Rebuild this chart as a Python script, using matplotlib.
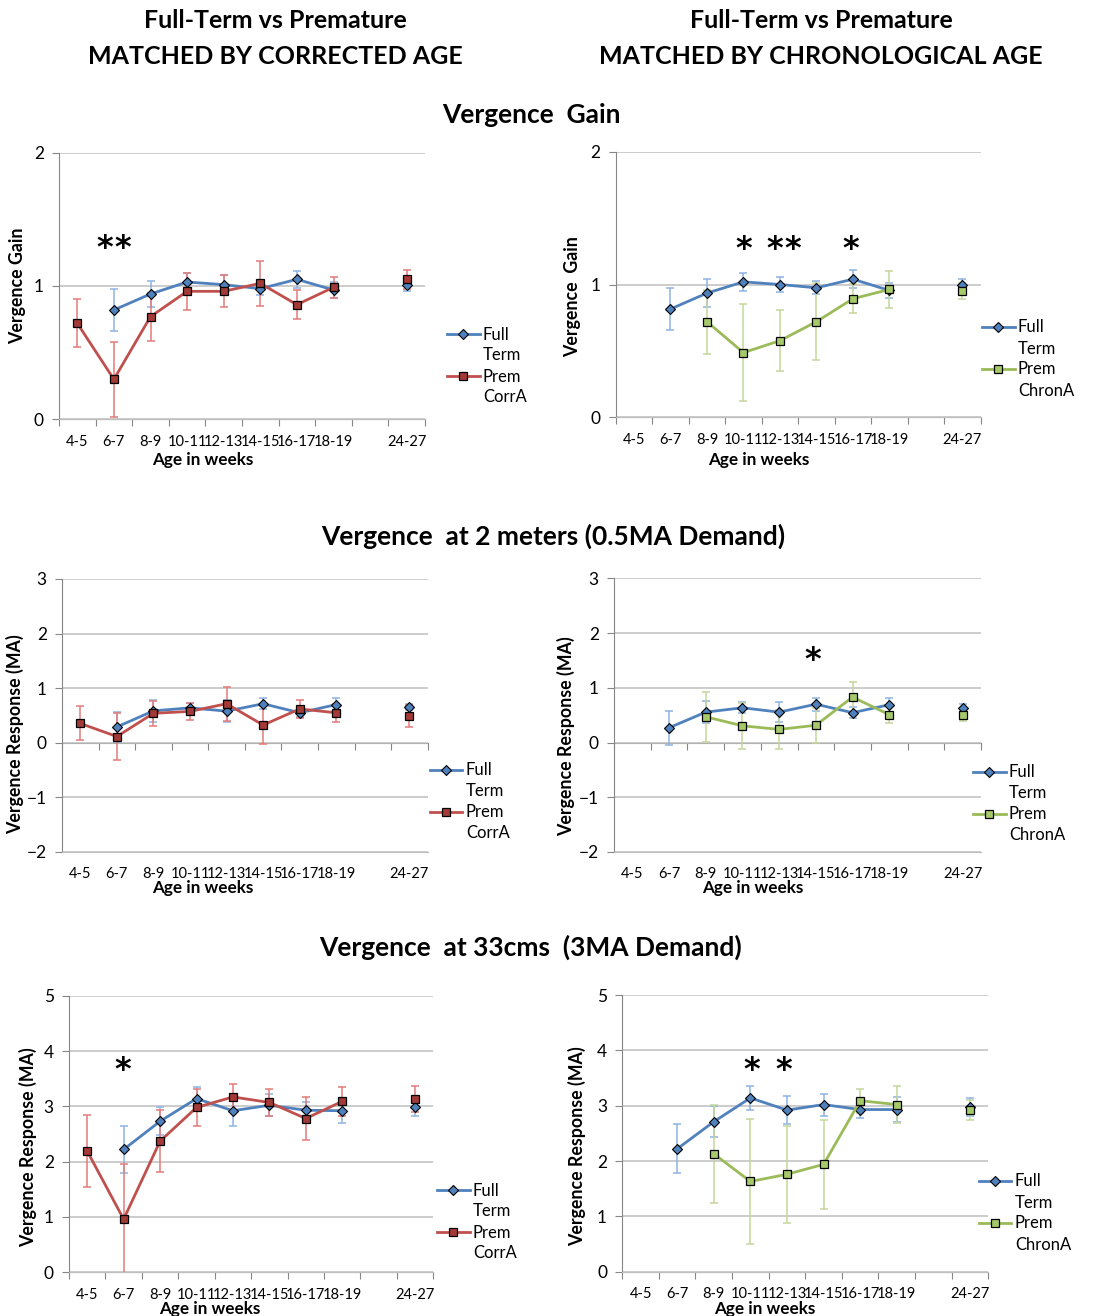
import numpy as np
import matplotlib
matplotlib.use('Agg')
import matplotlib.pyplot as plt
from matplotlib.lines import Line2D
from matplotlib.transforms import offset_copy

nan = np.nan

ages = ['4-5', '6-7', '8-9', '10-11', '12-13', '14-15', '16-17', '18-19', '', '24-27']

# Vergence gain
gain_ft = [nan, 0.82, 0.94, 1.03, 1.01, 0.98, 1.05, 0.97, nan, 1.01]
gain_ft_err = [nan, 0.16, 0.10, 0.07, 0.07, 0.05, 0.065, 0.06, nan, 0.05]
gain_corr = [0.72, 0.30, 0.77, 0.96, 0.96, 1.02, 0.86, 0.99, nan, 1.05]
gain_corr_err = [0.18, 0.28, 0.18, 0.14, 0.12, 0.17, 0.11, 0.08, nan, 0.07]
gain_ft_c = [nan, 0.815, 0.935, 1.02, 1.0, 0.975, 1.04, 0.955, nan, 0.995]
gain_ft_c_err = [nan, 0.16, 0.105, 0.07, 0.06, 0.05, 0.07, 0.06, nan, 0.05]
gain_chron = [nan, nan, 0.72, 0.487, 0.577, 0.72, 0.893, 0.963, nan, 0.95]
gain_chron_err = [nan, nan, 0.24, 0.365, 0.23, 0.29, 0.11, 0.14, nan, 0.06]

# Vergence at 2 m
far_ft = [nan, 0.29, 0.585, 0.64, 0.58, 0.715, 0.55, 0.70, nan, 0.655]
far_ft_err = [nan, 0.28, 0.2, 0.08, 0.2, 0.1, 0.08, 0.12, nan, 0.05]
far_corr = [0.355, 0.115, 0.54, 0.575, 0.715, 0.325, 0.62, 0.55, nan, 0.495]
far_corr_err = [0.31, 0.43, 0.23, 0.16, 0.31, 0.34, 0.16, 0.16, nan, 0.2]
far_ft_c = [nan, 0.27, 0.555, 0.635, 0.555, 0.70, 0.545, 0.69, nan, 0.635]
far_ft_c_err = [nan, 0.31, 0.2, 0.1, 0.185, 0.12, 0.1, 0.13, nan, 0.07]
far_chron = [nan, nan, 0.47, 0.305, 0.24, 0.315, 0.83, 0.51, nan, 0.495]
far_chron_err = [nan, nan, 0.46, 0.42, 0.35, 0.32, 0.27, 0.15, nan, 0.1]

# Vergence at 33 cm
near_ft = [nan, 2.22, 2.73, 3.14, 2.92, 3.02, 2.93, 2.92, nan, 2.99]
near_ft_err = [nan, 0.43, 0.25, 0.21, 0.27, 0.2, 0.15, 0.23, nan, 0.17]
near_corr = [2.19, 0.96, 2.37, 2.98, 3.17, 3.07, 2.78, 3.09, nan, 3.13]
near_corr_err = [0.65, 1.0, 0.56, 0.33, 0.23, 0.24, 0.38, 0.26, nan, 0.24]
near_ft_c = [nan, 2.22, 2.71, 3.14, 2.92, 3.02, 2.93, 2.93, nan, 2.98]
near_ft_c_err = [nan, 0.44, 0.28, 0.21, 0.26, 0.2, 0.15, 0.22, nan, 0.16]
near_chron = [nan, nan, 2.13, 1.63, 1.76, 1.94, 3.09, 3.02, nan, 2.92]
near_chron_err = [nan, nan, 0.88, 1.13, 0.88, 0.81, 0.22, 0.33, nan, 0.18]

# significance stars (category position, y)
stars_gain_corr = [(0.75, 1.33), (1.25, 1.33)]
stars_gain_chron = [(3.0, 1.31), (3.86, 1.31), (4.35, 1.31), (5.94, 1.31)]
stars_far_corr = []
stars_far_chron = [(4.92, 1.61)]
stars_near_corr = [(0.98, 3.75)]
stars_near_chron = [(3.04, 3.74), (3.92, 3.74)]

W, H = 1097, 1316
FONT = ['Lato', 'DejaVu Sans']
plt.rcParams['font.family'] = FONT

BLUE = '#4F81BD'
BLUE_ERR = '#8EB4E3'
RED = '#C0504D'
RED_MK = '#A33A37'
RED_ERR = '#E37B78'
GREEN = '#9BBB59'
GREEN_MK = '#A6C96A'
GREEN_ERR = '#C3D69B'
GRID = '#BFBFBF'
AXIS = '#868686'

panels = [
    dict(box=(59, 152.7, 425, 419.3), ylim=(0, 2), ft=gain_ft, fte=gain_ft_err,
         pr=gain_corr, pre=gain_corr_err, prem='CorrA', stars=stars_gain_corr,
         ylabel='Vergence Gain', ylab=(18, 286), xlab=(203, 460), leg=(447, 366)),
    dict(box=(615.7, 151.7, 980.7, 417.3), ylim=(0, 2), ft=gain_ft_c, fte=gain_ft_c_err,
         pr=gain_chron, pre=gain_chron_err, prem='ChronA', stars=stars_gain_chron,
         ylabel='Vergence  Gain', ylab=(573, 297), xlab=(759, 460), leg=(982, 359)),
    dict(box=(62, 579, 427.7, 852), ylim=(-2, 3), ft=far_ft, fte=far_ft_err,
         pr=far_corr, pre=far_corr_err, prem='CorrA', stars=stars_far_corr,
         ylabel='Vergence Response (MA)', ylab=(15, 734), xlab=(203, 888), leg=(430, 802)),
    dict(box=(614, 578.3, 981, 852), ylim=(-2, 3), ft=far_ft_c, fte=far_ft_c_err,
         pr=far_chron, pre=far_chron_err, prem='ChronA', stars=stars_far_chron,
         ylabel='Vergence Response (MA)', ylab=(566, 736), xlab=(753, 888), leg=(973, 804)),
    dict(box=(69, 995.7, 433.3, 1272.3), ylim=(0, 5), ft=near_ft, fte=near_ft_err,
         pr=near_corr, pre=near_corr_err, prem='CorrA', stars=stars_near_corr,
         ylabel='Vergence Response (MA)', ylab=(28, 1147), xlab=(210, 1309), leg=(437, 1222)),
    dict(box=(622.3, 995, 988.3, 1271.7), ylim=(0, 5), ft=near_ft_c, fte=near_ft_c_err,
         pr=near_chron, pre=near_chron_err, prem='ChronA', stars=stars_near_chron,
         ylabel='Vergence Response (MA)', ylab=(577, 1146), xlab=(765, 1309), leg=(979, 1213)),
]

fig = plt.figure(figsize=(W / 100, H / 100), dpi=100)

x = np.arange(len(ages))
bounds = np.arange(len(ages) + 1) - 0.5

for p in panels:
    x0, y0, x1, y1 = p['box']
    ax = fig.add_axes([x0 / W, 1 - y1 / H, (x1 - x0) / W, (y1 - y0) / H])
    wpx, hpx = x1 - x0, y1 - y0

    def fx(px):
        return (px - x0) / wpx

    def fy(py):
        return (y1 - py) / hpx

    ft = np.array(p['ft'], dtype=float)
    pr = np.array(p['pr'], dtype=float)
    chron = p['prem'] == 'ChronA'
    pcol = GREEN if chron else RED
    pmk = GREEN_MK if chron else RED_MK
    perr = GREEN_ERR if chron else RED_ERR

    ax.errorbar(x, ft, yerr=np.array(p['fte'], dtype=float), fmt='none', ecolor=BLUE_ERR,
                elinewidth=1.1, capsize=3, capthick=1.1, zorder=3)
    ax.errorbar(x, pr, yerr=np.array(p['pre'], dtype=float), fmt='none', ecolor=perr,
                elinewidth=1.1, capsize=3, capthick=1.1, zorder=3)
    lft, = ax.plot(x, ft, color=BLUE, lw=2.0, marker='D', ms=5, mfc=BLUE, mec='black',
                   mew=0.8, zorder=4)
    lpr, = ax.plot(x, pr, color=pcol, lw=2.0, marker='s', ms=6, mfc=pmk, mec='black',
                   mew=0.9, zorder=5)

    star_tr = offset_copy(ax.transData, fig=fig, x=0, y=-6, units='dots')
    for sx, sy in p['stars']:
        ax.text(sx, sy, '*', ha='center', va='center', fontsize=23, fontweight='bold',
                family=['DejaVu Sans'], transform=star_tr, zorder=6)

    ymin, ymax = p['ylim']
    ax.set_ylim(ymin, ymax)
    ax.set_xlim(-0.5, len(ages) - 0.5)
    ax.set_yticks(np.arange(ymin, ymax + 1))
    ax.grid(axis='y', color=GRID, lw=1.1)
    ax.set_axisbelow(True)
    for s in ['top', 'right']:
        ax.spines[s].set_visible(False)
    ax.spines['left'].set_color(AXIS)
    ax.spines['bottom'].set_color(GRID)
    ax.tick_params(axis='y', length=5, color=AXIS, labelsize=12.5, pad=6)
    ax.set_xticks(x)
    ax.set_xticklabels(ages)
    ax.tick_params(axis='x', length=0, labelsize=10.5, pad=11)

    # category tick marks on the zero line
    sec = ax.secondary_xaxis(-ymin / (ymax - ymin))
    sec.set_xticks(bounds)
    sec.tick_params(length=5, color=AXIS, labelbottom=False, labeltop=False)
    sec.spines['bottom'].set_color(AXIS)
    sec.spines['top'].set_visible(False)

    ax.set_ylabel(p['ylabel'], fontsize=12.8, fontweight='bold')
    ax.yaxis.set_label_coords(fx(p['ylab'][0]), fy(p['ylab'][1]))
    ax.yaxis.label.set_va('center')
    ax.set_xlabel('Age in weeks', fontsize=12.3, fontweight='bold')
    ax.xaxis.set_label_coords(fx(p['xlab'][0]), fy(p['xlab'][1]))
    ax.xaxis.label.set_va('center')

    blank = Line2D([], [], color='none')
    ax.legend([lft, blank, lpr, blank], ['Full', 'Term', 'Prem', p['prem']],
              loc='center left', bbox_to_anchor=(fx(p['leg'][0]), fy(p['leg'][1])),
              frameon=False, fontsize=12, handlelength=1.95, handletextpad=0.2,
              borderpad=0, borderaxespad=0, labelspacing=0.3)

fig.text(275 / W, 1 - 21 / H, 'Full-Term vs Premature', ha='center', va='center',
         fontsize=18, fontweight='bold')
fig.text(275 / W, 1 - 57 / H, 'MATCHED BY CORRECTED AGE', ha='center', va='center',
         fontsize=18, fontweight='bold')
fig.text(821 / W, 1 - 21 / H, 'Full-Term vs Premature', ha='center', va='center',
         fontsize=18, fontweight='bold')
fig.text(821 / W, 1 - 57 / H, 'MATCHED BY CHRONOLOGICAL AGE', ha='center', va='center',
         fontsize=18, fontweight='bold')

fig.text(531 / W, 1 - 115 / H, 'Vergence  Gain', ha='center', va='center',
         fontsize=19, fontweight='bold')
fig.text(553 / W, 1 - 536 / H, 'Vergence  at 2 meters (0.5MA Demand)', ha='center',
         va='center', fontsize=19, fontweight='bold')
fig.text(531 / W, 1 - 947 / H, 'Vergence  at 33cms  (3MA Demand)', ha='center',
         va='center', fontsize=19, fontweight='bold')

fig.savefig('out.png', dpi=100)
